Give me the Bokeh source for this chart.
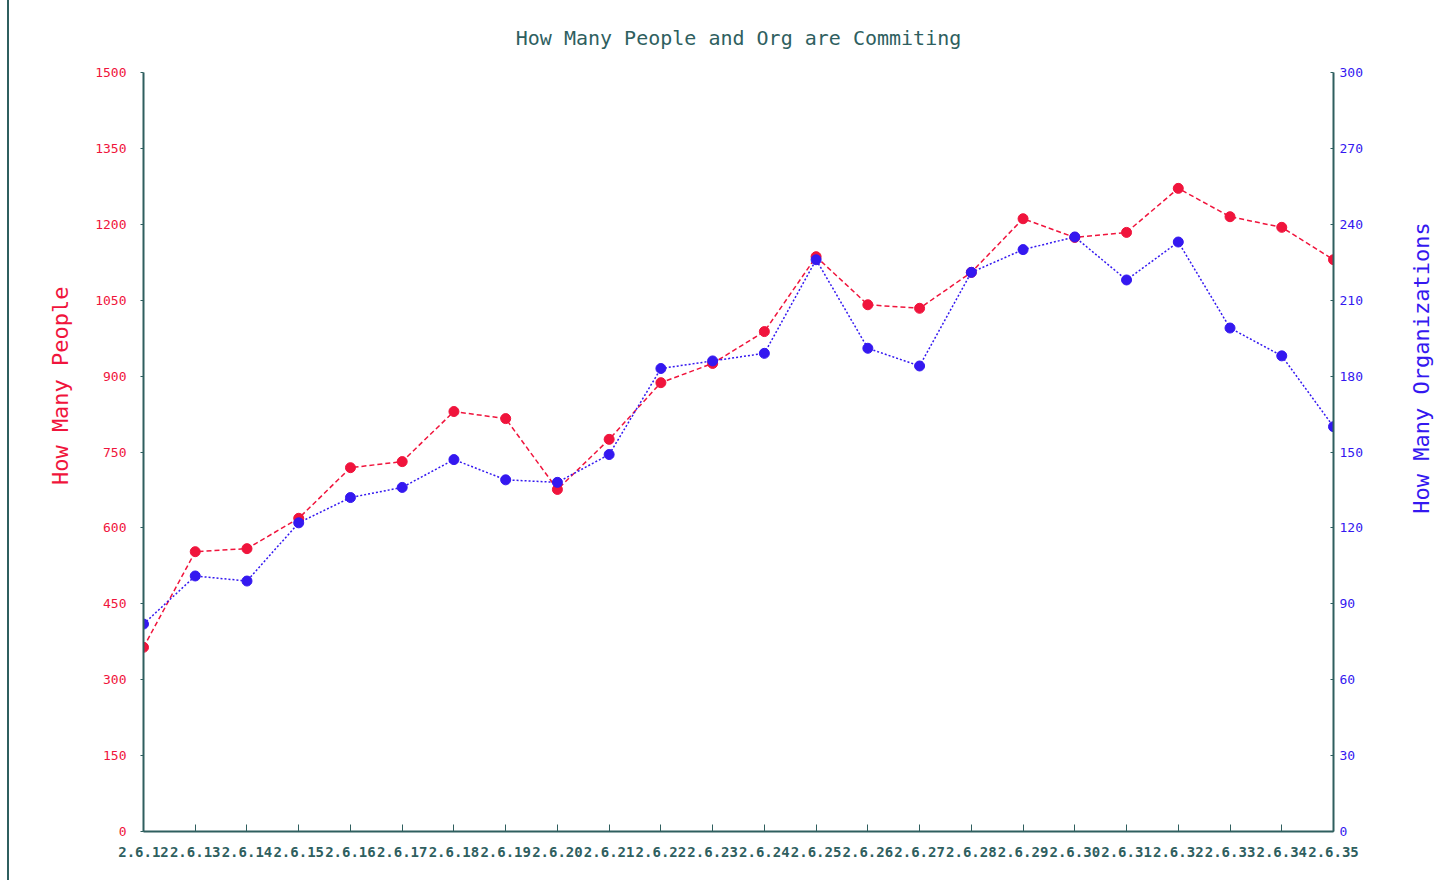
import math
from bokeh.plotting import figure
from bokeh.models import Range1d, LinearAxis, FixedTicker, Div
from bokeh.layouts import row
from bokeh.embed import file_html
from bokeh.resources import INLINE

versions = ["2.6.12", "2.6.13", "2.6.14", "2.6.15", "2.6.16", "2.6.17", "2.6.18", "2.6.19",
            "2.6.20", "2.6.21", "2.6.22", "2.6.23", "2.6.24", "2.6.25", "2.6.26", "2.6.27",
            "2.6.28", "2.6.29", "2.6.30", "2.6.31", "2.6.32", "2.6.33", "2.6.34", "2.6.35"]
people = [364, 553, 559, 619, 719, 731, 830, 816, 676, 775, 887, 925,
          988, 1136, 1041, 1034, 1105, 1211, 1174, 1184, 1271, 1215, 1194, 1130]
orgs = [82, 101, 99, 122, 132, 136, 147, 139, 138, 149, 183, 186,
        189, 226, 191, 184, 221, 230, 235, 218, 233, 199, 188, 160]
people_ticks = [0, 150, 300, 450, 600, 750, 900, 1050, 1200, 1350, 1500]
org_ticks = [0, 30, 60, 90, 120, 150, 180, 210, 240, 270, 300]

AX = "#2f5f5f"
RED = "#f0143c"
BLUE = "#3418f0"
FONT = "DejaVu Sans Mono"
NB = "\u00a0"

xs = list(range(len(versions)))

p = figure(width=1427, height=880, frame_width=1190, frame_height=759,
           min_border_left=129, min_border_right=108, min_border_top=72, min_border_bottom=49,
           x_range=Range1d(0, len(versions) - 1), y_range=Range1d(0, 1500),
           output_backend="svg", toolbar_location=None,
           title="How Many People and Org are Commiting")
p.extra_y_ranges = {"orgs": Range1d(0, 300)}

p.title.align = "center"
p.title.text_font = FONT
p.title.text_font_size = "20px"
p.title.text_font_style = "normal"
p.title.text_color = AX
p.title.offset = 0
p.title.standoff = 45

p.xgrid.visible = False
p.ygrid.visible = False
p.outline_line_color = None
p.background_fill_color = "white"
p.border_fill_color = "white"

# x axis
xa = p.xaxis[0]
xa.ticker = FixedTicker(ticks=xs)
xa.major_label_overrides = {i: v for i, v in enumerate(versions)}
xa.major_label_text_font = FONT
xa.major_label_text_font_size = "14px"
xa.major_label_text_font_style = "bold"
xa.major_label_text_color = AX
xa.axis_line_color = AX
xa.axis_line_width = 2
xa.major_tick_in = 7
xa.major_tick_out = 0
xa.major_tick_line_color = AX
xa.minor_tick_line_color = None
xa.major_label_standoff = 15

# left axis
ya = p.yaxis[0]
ya.ticker = FixedTicker(ticks=people_ticks)
ya.axis_label = NB * 10 + "How Many People"
ya.axis_label_text_font = FONT
ya.axis_label_text_font_size = "22px"
ya.axis_label_text_font_style = "normal"
ya.axis_label_text_color = RED
ya.axis_label_standoff = 19
ya.major_label_text_font = FONT
ya.major_label_text_font_size = "13px"
ya.major_label_text_color = RED
ya.axis_line_color = AX
ya.axis_line_width = 2
ya.major_tick_in = 0
ya.major_tick_out = 3
ya.major_tick_line_color = AX
ya.minor_tick_line_color = None
ya.major_label_standoff = 14

# right axis
ra = LinearAxis(y_range_name="orgs", ticker=FixedTicker(ticks=org_ticks))
ra.axis_label_text_font = FONT
ra.axis_label_text_font_size = "22px"
ra.axis_label_text_font_style = "normal"
ra.axis_label_text_color = BLUE
ra.axis_label_standoff = 56
props = ra.properties()
if "axis_label_orientation" in props and "axis_label_align" in props:
    ra.axis_label = NB * 24 + "How Many Organizations"
    ra.axis_label_orientation = math.pi / 2
    ra.axis_label_align = "start"
else:
    ra.axis_label = "How Many Organizations"
ra.major_label_text_font = FONT
ra.major_label_text_font_size = "13px"
ra.major_label_text_color = BLUE
ra.axis_line_color = AX
ra.axis_line_width = 2
ra.major_tick_in = 3
ra.major_tick_out = 0
ra.major_tick_line_color = AX
ra.minor_tick_line_color = None
ra.major_label_standoff = 6
p.add_layout(ra, "right")

# series
p.line(xs, people, line_color=RED, line_width=1.5, line_dash="5 3")
p.scatter(xs, people, size=10, marker="circle", fill_color=RED, line_color=RED)
p.line(xs, orgs, line_color=BLUE, line_width=1.5, line_dash="2 2", y_range_name="orgs")
p.scatter(xs, orgs, size=10, marker="circle", fill_color=BLUE, line_color=BLUE, y_range_name="orgs")

edge = Div(width=4, height=888, styles={"border-right": "2px solid " + AX, "box-sizing": "border-box",
                                        "margin-top": "-8px"})
layout = row(edge, p, spacing=0)

open("out.html", "w").write(file_html(layout, INLINE))
